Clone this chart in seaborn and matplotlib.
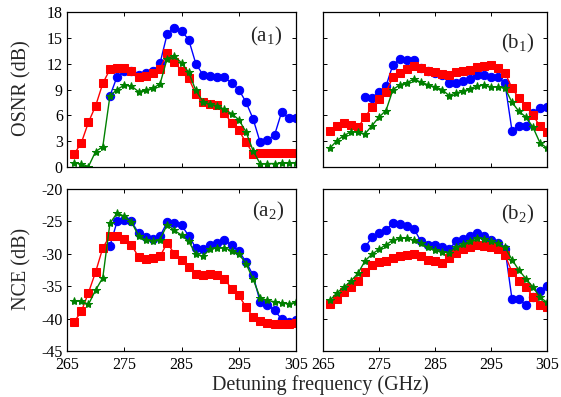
import matplotlib
matplotlib.use("Agg")
import matplotlib.pyplot as plt
import seaborn as sns
import pandas as pd

# ---------------- data ----------------
freq = [266.25, 267.5, 268.75, 270.0, 271.25, 272.5, 273.75, 275.0, 276.25, 277.5,
        278.75, 280.0, 281.25, 282.5, 283.75, 285.0, 286.25, 287.5, 288.75, 290.0,
        291.25, 292.5, 293.75, 295.0, 296.25, 297.5, 298.75, 300.0, 301.25, 302.5,
        303.75, 305.0]
blue_start = 5  # blue series begins at the 6th frequency

a1_red = [1.5, 2.8, 5.2, 7.1, 9.7, 11.35, 11.5, 11.5, 11.1, 10.4, 10.6, 10.9, 11.4, 13.2,
          12.2, 11.2, 10.3, 8.5, 7.5, 7.35, 7.2, 6.3, 5.1, 4.25, 2.9, 1.55, 1.6, 1.6,
          1.6, 1.65, 1.65, 1.65]
a1_blue = [8.25, 10.5, 11.1, 11.1, 10.7, 10.9, 11.1, 12.05, 15.45, 16.2, 15.8, 14.8, 12.0,
           10.7, 10.55, 10.5, 10.4, 9.75, 9.0, 7.55, 5.6, 2.85, 3.15, 3.7, 6.4, 5.65, 5.65]
a1_green = [0.5, 0.35, 0.05, 1.8, 2.35, 8.25, 9.0, 9.5, 9.4, 8.75, 8.95, 9.15, 9.65, 12.6,
            12.9, 12.1, 11.0, 8.9, 7.6, 7.3, 7.1, 6.7, 6.2, 5.5, 4.1, 1.9, 0.35, 0.4,
            0.4, 0.45, 0.45, 0.5]

b1_red = [4.15, 4.8, 5.1, 4.9, 4.6, 5.8, 6.95, 7.9, 8.7, 10.45, 10.9, 11.4, 11.7, 11.5,
          11.2, 11.0, 10.8, 10.7, 11.0, 11.1, 11.3, 11.6, 11.7, 11.8, 11.5, 10.95, 9.15,
          8.0, 7.07, 6.0, 4.74, 4.1]
b1_blue = [8.1, 8.0, 8.7, 9.4, 11.9, 12.5, 12.4, 12.4, 11.5, 11.2, 10.95, 10.7, 9.75, 9.7,
           9.95, 10.25, 10.7, 10.7, 10.45, 10.45, 9.7, 4.2, 4.8, 4.75, 6.25, 6.9, 7.0]
b1_green = [2.2, 3.07, 3.65, 4.1, 4.04, 3.85, 4.8, 5.8, 6.55, 9.0, 9.55, 9.8, 10.2, 9.85,
            9.55, 9.3, 9.0, 8.3, 8.6, 8.8, 9.1, 9.4, 9.55, 9.3, 9.3, 9.15, 7.5, 6.45,
            5.8, 4.6, 2.8, 2.2]

a2_red = [-40.5, -38.9, -36.0, -32.8, -29.1, -27.2, -27.2, -27.7, -28.6, -30.5, -30.8,
          -30.7, -30.4, -28.3, -30.0, -31.0, -32.05, -33.1, -33.3, -33.1, -33.2, -33.85,
          -35.4, -36.4, -38.2, -39.7, -40.4, -40.7, -40.8, -40.9, -40.9, -40.7]
a2_blue = [-28.8, -25.0, -24.8, -25.0, -26.8, -27.4, -27.7, -27.3, -25.1, -25.2, -25.6,
           -27.2, -29.1, -29.2, -28.7, -28.4, -27.9, -28.7, -29.6, -31.2, -33.3, -37.5,
           -37.9, -38.7, -40.1, -40.5, -40.15]
a2_green = [-37.3, -37.3, -37.8, -35.6, -33.7, -25.3, -23.7, -24.2, -25.1, -27.2, -27.9,
            -28.05, -27.8, -25.5, -26.4, -27.1, -28.1, -30.0, -30.4, -29.2, -29.1, -29.1,
            -29.5, -30.0, -31.5, -33.9, -36.8, -37.2, -37.4, -37.6, -37.7, -37.5]

b2_red = [-37.75, -37.0, -35.9, -35.15, -34.2, -32.8, -31.8, -31.25, -31.1, -30.6, -30.4,
          -30.2, -30.0, -30.3, -30.9, -31.1, -31.4, -30.7, -29.8, -29.3, -28.9, -28.65,
          -28.8, -29.0, -29.3, -30.2, -32.8, -34.2, -35.15, -36.6, -37.9, -38.2]
b2_blue = [-29.0, -27.45, -26.8, -26.3, -25.25, -25.4, -25.7, -26.15, -28.1, -28.6, -28.6,
           -28.9, -29.3, -28.1, -27.7, -27.2, -26.8, -27.3, -27.9, -28.4, -29.2, -37.0,
           -37.0, -37.9, -36.7, -35.7, -34.9]
b2_green = [-37.2, -36.0, -35.15, -34.2, -33.0, -31.1, -30.05, -29.3, -28.6, -27.9, -27.6,
            -27.6, -27.9, -28.4, -29.0, -29.4, -29.7, -29.8, -29.0, -28.5, -28.1, -27.5,
            -27.7, -28.1, -28.4, -29.0, -30.9, -32.55, -33.85, -35.15, -36.7, -37.5]

x_ticks = [265, 275, 285, 295, 305]
osnr_ticks = [0, 3, 6, 9, 12, 15, 18]
nce_ticks = [-45, -40, -35, -30, -25, -20]
panel_labels = ["(a$_1$)", "(b$_1$)", "(a$_2$)", "(b$_2$)"]

# ---------------- style ----------------
sns.set_style("ticks")
plt.rcParams["font.family"] = ["Liberation Serif", "DejaVu Serif"]
plt.rcParams["mathtext.default"] = "regular"
plt.rcParams["axes.unicode_minus"] = False

W, H = 561, 397
fig = plt.figure(figsize=(W / 100, H / 100), dpi=100)

def rect(l, t, r, b):
    return [l / W, 1 - b / H, (r - l) / W, (b - t) / H]

ax_a1 = fig.add_axes(rect(67, 12, 296, 167))
ax_b1 = fig.add_axes(rect(323, 12, 547, 167))
ax_a2 = fig.add_axes(rect(67, 189, 296, 351))
ax_b2 = fig.add_axes(rect(323, 189, 547, 351))

BLUE = (0, 0, 1)
RED = (1, 0, 0)
GREEN = (0, 0.5, 0)

def draw(ax, red, blue, green, label, lpos, ylim, yticks, show_y, show_x):
    dfb = pd.DataFrame({"f": freq[blue_start:], "v": blue})
    dfr = pd.DataFrame({"f": freq, "v": red})
    dfg = pd.DataFrame({"f": freq, "v": green})
    sns.lineplot(data=dfb, x="f", y="v", ax=ax, color=BLUE, marker="o", markersize=6,
                 markeredgecolor=BLUE, linewidth=1.0, estimator=None, sort=False)
    sns.lineplot(data=dfr, x="f", y="v", ax=ax, color=RED, marker="s", markersize=6,
                 markeredgecolor=RED, linewidth=1.0, estimator=None, sort=False)
    sns.lineplot(data=dfg, x="f", y="v", ax=ax, color=GREEN, marker="*", markersize=6,
                 markeredgecolor=GREEN, linewidth=1.0, estimator=None, sort=False)
    ax.set_xlim(265, 305)
    ax.set_ylim(*ylim)
    ax.set_xticks(x_ticks)
    ax.set_yticks(yticks)
    ax.set_xlabel("")
    ax.set_ylabel("")
    ax.tick_params(direction="in", top=True, right=True, length=3, width=0.7,
                   labelsize=11.5, colors="black")
    ax.tick_params(axis="x", pad=4)
    ax.tick_params(axis="y", pad=3)
    if not show_y:
        ax.set_yticklabels([])
    if not show_x:
        ax.set_xticklabels([])
    for s in ax.spines.values():
        s.set_visible(True)
        s.set_linewidth(0.9)
        s.set_color("black")
    ax.text(lpos[0], lpos[1], label, transform=ax.transAxes, fontsize=15,
            ha="center", va="center")

draw(ax_a1, a1_red, a1_blue, a1_green, panel_labels[0], (0.87, 0.84), (0, 18),
     osnr_ticks, True, False)
draw(ax_b1, b1_red, b1_blue, b1_green, panel_labels[1], (0.87, 0.80), (0, 18),
     osnr_ticks, False, False)
draw(ax_a2, a2_red, a2_blue, a2_green, panel_labels[2], (0.88, 0.86), (-45, -20),
     nce_ticks, True, True)
draw(ax_b2, b2_red, b2_blue, b2_green, panel_labels[3], (0.87, 0.845), (-45, -20),
     nce_ticks, False, True)

fig.text(22 / W, 1 - 88 / H, "OSNR (dB)", rotation=90, ha="center", va="center",
         fontsize=14.5)
fig.text(22 / W, 1 - 269 / H, "NCE (dB)", rotation=90, ha="center", va="center",
         fontsize=14.5)
fig.text(320 / W, 1 - 385 / H, "Detuning frequency (GHz)", ha="center", va="center",
         fontsize=14.5)

fig.savefig("out.png", dpi=100)
